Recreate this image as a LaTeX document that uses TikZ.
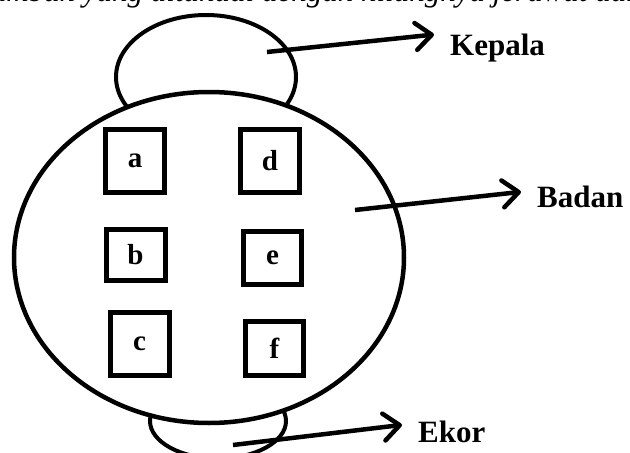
\documentclass[tikz,border=0pt]{standalone}
\usepackage{fontspec}
\setmainfont{Liberation Serif}
\usetikzlibrary{shapes.geometric,positioning,arrows.meta}

\begin{document}
\begin{tikzpicture}[x=1pt, y=-1pt, node distance=135pt,
    box/.style={draw, line width=5pt, minimum width=59pt, inner sep=0pt, font=\fontsize{29}{34}\selectfont\bfseries},
    part/.style={ellipse, draw, line width=4.5pt, fill=white, inner sep=0pt},
    lbl/.style={inner xsep=16pt, font=\fontsize{31}{36}\selectfont\bfseries},
    arr/.style={line width=4.5pt, -{Straight Barb[length=16pt, width=27pt, round]}}]
\useasboundingbox (0,0) rectangle (630,453);
\begin{scope}
\clip (0,0) rectangle (630,453);
\node[anchor=south west, inner sep=0pt, font=\fontsize{31}{36}\selectfont\itshape] (line) at (-18,8) {tumbuh yang ditandai dengan hilangnya jerawat dan};
\node[part, line width=4pt, minimum width=180pt, minimum height=124pt] (head) at (206,77) {};
\node[part, line width=4pt, minimum width=136pt, minimum height=75pt] (tail) at (218,421) {};
\node[part, minimum width=390pt, minimum height=331pt] (body) at (209,257.5) {};
\node[box, minimum height=63pt] (a) at (135,161) {a};
\node[box, minimum height=63pt] (d) [right of=a] {d};
\node[box, minimum height=51pt] (b) at (135.5,255) {b};
\node[box, minimum height=53pt, minimum width=58pt] (e) [right of=b, xshift=2pt, yshift=-2.5pt] {e};
\node[box, minimum height=63pt] (c) at (139.5,343.5) {c};
\node[box, minimum height=54pt, minimum width=58pt] (f) [right of=c, yshift=-4.5pt] {f};
\node[lbl, anchor=base west] (kepala) at (434,55) {Kepala};
\node[lbl, anchor=base west] (badan) at (521,207) {Badan};
\node[lbl, anchor=base west] (ekor) at (402,442) {Ekor};
\coordinate (kepala-from) at (267,52);
\coordinate (badan-from) at (355,210);
\coordinate (ekor-from) at (233,445);
\draw[arr] (kepala-from) -- ([yshift=13pt]kepala.west);
\draw[arr] (badan-from) -- ([yshift=4.5pt]badan.west);
\draw[arr] (ekor-from) -- ([yshift=6.5pt]ekor.west);
\end{scope}
\end{tikzpicture}
\end{document}
